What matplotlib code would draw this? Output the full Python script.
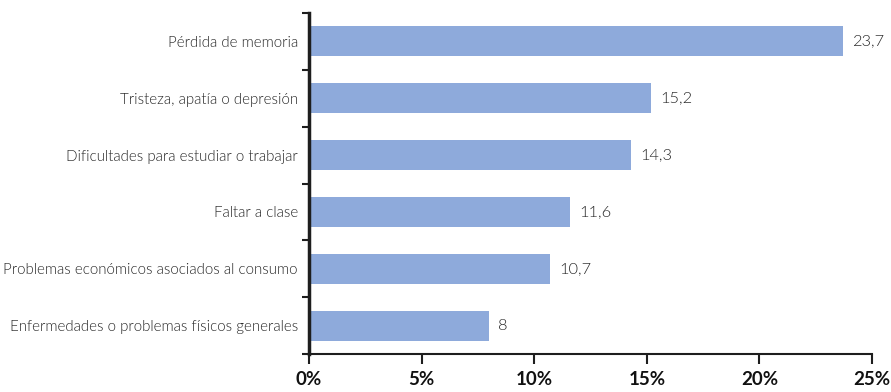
import matplotlib.pyplot as plt
import numpy as np

# data
categories = [
    "Pérdida de memoria",
    "Tristeza, apatía o depresión",
    "Dificultades para estudiar o trabajar",
    "Faltar a clase",
    "Problemas económicos asociados al consumo",
    "Enfermedades o problemas físicos generales",
]
values = [23.7, 15.2, 14.3, 11.6, 10.7, 8.0]
value_labels = ["23,7", "15,2", "14,3", "11,6", "10,7", "8"]
xticks = [0, 5, 10, 15, 20, 25]
xtick_labels = ["0%", "5%", "10%", "15%", "20%", "25%"]

BAR = "#8EAADB"
TXT = "#262626"
AXC = "#1e1e1e"

fig = plt.figure(figsize=(8.91, 3.92), dpi=100)
ax = fig.add_axes([0.3468, 0.0969, 0.6319, 0.8699])

y = np.arange(len(categories))[::-1]
ax.barh(y, values, height=0.53, color=BAR)

ax.set_xlim(0, 25)
ax.set_ylim(-0.5, len(categories) - 0.5)

# value labels at bar ends
for yi, v, lab in zip(y, values, value_labels):
    ax.text(v + 0.4, yi, lab, va="center", ha="left", fontsize=11.8,
            family="Lato", fontweight=300, color=TXT)

ax.set_yticks(y)
ax.set_yticklabels(categories, family="Lato", fontweight=300, fontsize=10.9, color=TXT)
ax.tick_params(axis="y", which="major", length=0, pad=8)
ax.set_yticks(np.arange(-0.5, len(categories), 1.0), minor=True)
ax.tick_params(axis="y", which="minor", length=5, width=1.5, color=AXC)

ax.set_xticks(xticks)
ax.set_xticklabels(xtick_labels, family="Lato", fontweight="bold", fontsize=13.5, color="#111111")
ax.tick_params(axis="x", length=7, width=1.5, color=AXC, pad=5)

for s in ["top", "right"]:
    ax.spines[s].set_visible(False)
ax.spines["left"].set_linewidth(2.5)
ax.spines["left"].set_color(AXC)
ax.spines["bottom"].set_linewidth(1.5)
ax.spines["bottom"].set_color(AXC)

fig.savefig("out.png", dpi=100, facecolor="white")
